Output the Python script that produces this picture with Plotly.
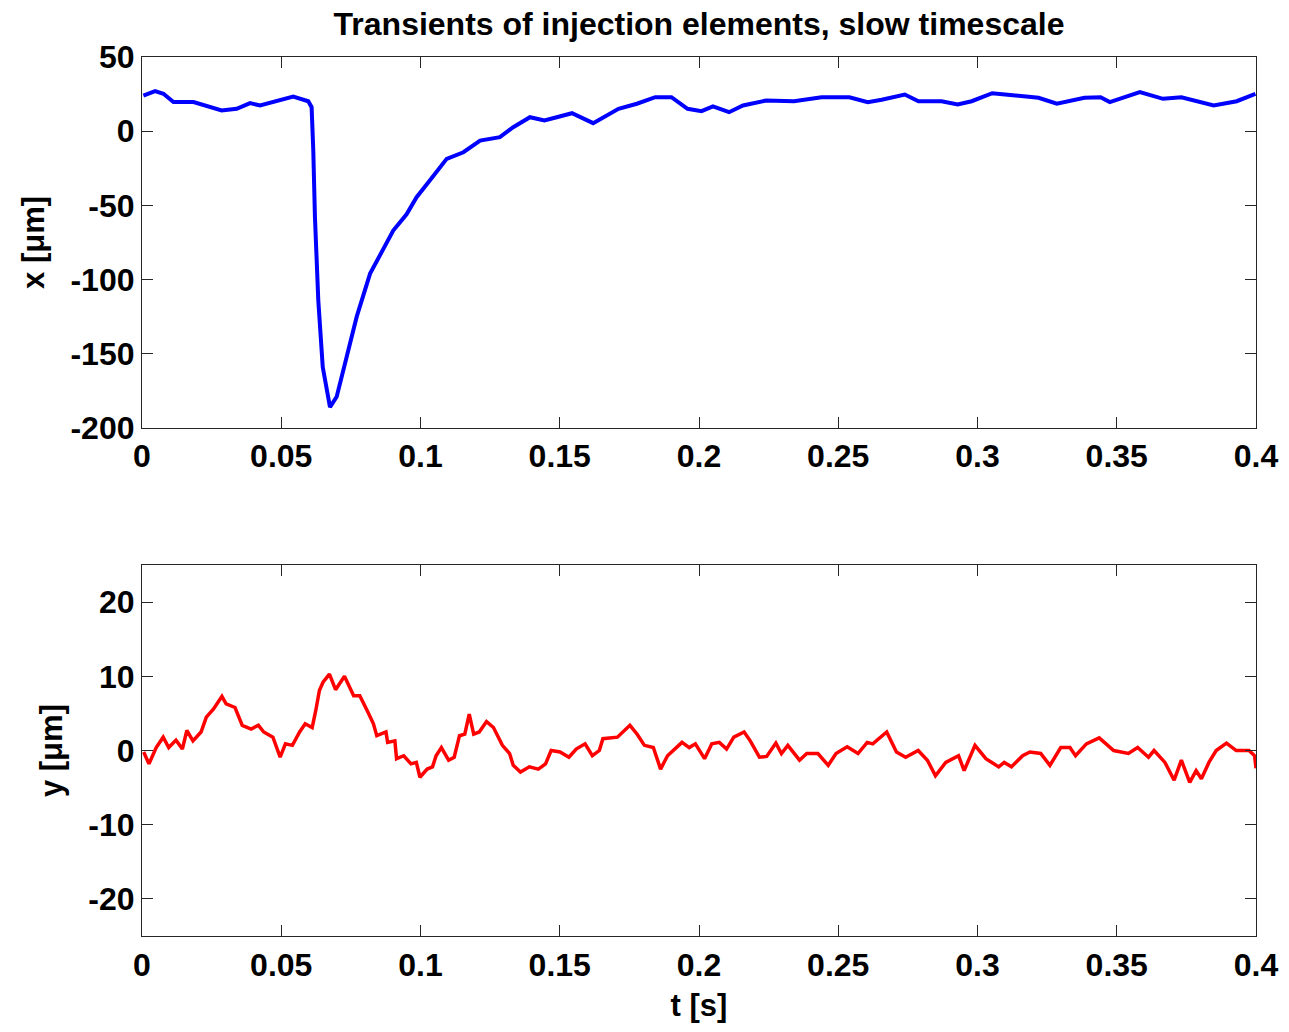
import plotly.graph_objects as go
from plotly.subplots import make_subplots

# ---- data ----
t_x = [0.0005, 0.0047, 0.0077, 0.0113, 0.0185, 0.0232, 0.0286, 0.0340, 0.0388, 0.0424,
       0.0484, 0.0543, 0.0597, 0.0609, 0.0615, 0.0621, 0.0633, 0.0649, 0.0675, 0.0699,
       0.0735, 0.0771, 0.0819, 0.0867, 0.0902, 0.0950, 0.0986, 0.1034, 0.1094, 0.1154,
       0.1214, 0.1285, 0.1333, 0.1393, 0.1445, 0.1489, 0.1544, 0.1620, 0.1711, 0.1777,
       0.1843, 0.1901, 0.1959, 0.2009, 0.2050, 0.2108, 0.2158, 0.2241, 0.2341, 0.2440,
       0.2540, 0.2606, 0.2656, 0.2739, 0.2788, 0.2871, 0.2929, 0.2979, 0.3053, 0.3136,
       0.3219, 0.3285, 0.3384, 0.3442, 0.3475, 0.3583, 0.3666, 0.3732, 0.3848, 0.3931,
       0.3998]
x_um = [24.0, 27.0, 25.2, 19.6, 19.6, 17.3, 14.0, 15.1, 18.9, 17.3,
        20.2, 23.4, 20.2, 16.2, -13.0, -58.0, -114.0, -159.0, -186.0, -179.0,
        -152.0, -125.0, -96.0, -80.0, -67.0, -56.0, -44.5, -33.0, -18.6, -14.2,
        -6.3, -4.0, 2.7, 9.4, 7.2, 9.4, 12.1, 5.4, 15.1, 18.5,
        22.9, 22.9, 15.1, 13.5, 16.7, 12.8, 17.3, 20.7, 20.2, 22.9,
        22.9, 19.6, 21.2, 24.7, 20.2, 20.2, 18.0, 20.2, 25.6, 24.1,
        22.5, 18.5, 22.5, 22.9, 19.6, 26.3, 21.8, 22.9, 17.3, 20.2,
        25.2]

t_y = [0.0006, 0.0025, 0.0051, 0.0076, 0.0096, 0.0122, 0.0145, 0.0161, 0.0183, 0.0212,
       0.0231, 0.0257, 0.0287, 0.0302, 0.0334, 0.0360, 0.0392, 0.0418, 0.0437, 0.0470,
       0.0496, 0.0515, 0.0540, 0.0566, 0.0586, 0.0611, 0.0624, 0.0637, 0.0650, 0.0673,
       0.0695, 0.0727, 0.0760, 0.0782, 0.0811, 0.0831, 0.0843, 0.0876, 0.0882, 0.0908,
       0.0914, 0.0940, 0.0966, 0.0985, 0.0998, 0.1024, 0.1043, 0.1056, 0.1075, 0.1101,
       0.1121, 0.1140, 0.1159, 0.1175, 0.1191, 0.1211, 0.1237, 0.1262, 0.1294, 0.1320,
       0.1333, 0.1359, 0.1391, 0.1423, 0.1449, 0.1469, 0.1501, 0.1533, 0.1559, 0.1591,
       0.1617, 0.1642, 0.1655, 0.1707, 0.1752, 0.1778, 0.1804, 0.1836, 0.1862, 0.1887,
       0.1939, 0.1965, 0.1987, 0.2020, 0.2046, 0.2073, 0.2099, 0.2125, 0.2162, 0.2184,
       0.2217, 0.2243, 0.2276, 0.2296, 0.2319, 0.2361, 0.2387, 0.2427, 0.2464, 0.2492,
       0.2532, 0.2571, 0.2604, 0.2624, 0.2674, 0.2709, 0.2742, 0.2787, 0.2820, 0.2849,
       0.2886, 0.2932, 0.2952, 0.2991, 0.3030, 0.3076, 0.3096, 0.3122, 0.3162, 0.3188,
       0.3227, 0.3260, 0.3299, 0.3332, 0.3352, 0.3391, 0.3437, 0.3489, 0.3542, 0.3575,
       0.3614, 0.3634, 0.3673, 0.3706, 0.3732, 0.3762, 0.3785, 0.3804, 0.3831, 0.3857,
       0.3894, 0.3929, 0.3975, 0.3995, 0.4000]
y_um = [-0.2, -1.8, 0.4, 1.8, 0.4, 1.4, 0.2, 2.7, 1.3, 2.5,
        4.5, 5.6, 7.3, 6.3, 5.8, 3.4, 2.9, 3.4, 2.5, 1.8,
        -0.9, 0.9, 0.7, 2.5, 3.6, 3.1, 5.4, 8.1, 9.2, 10.3,
        8.2, 10.0, 7.4, 7.4, 5.2, 3.6, 2.0, 2.5, 1.1, 1.3,
        -1.1, -0.7, -1.8, -1.6, -3.6, -2.5, -2.2, -0.7, 0.4, -1.3,
        -0.9, 2.0, 2.2, 4.9, 2.2, 2.5, 3.9, 3.1, 0.7, -0.4,
        -2.0, -2.9, -2.2, -2.5, -1.8, 0.0, -0.2, -0.9, 0.2, 0.9,
        -0.7, 0.0, 1.6, 1.8, 3.4, 2.2, 0.7, 0.4, -2.5, -0.7,
        1.1, 0.4, 0.9, -1.1, 0.9, 1.1, 0.2, 1.8, 2.5, 1.3,
        -0.9, -0.8, 1.0, -0.4, 0.7, -1.3, -0.4, -0.4, -2.0, -0.4,
        0.5, -0.4, 1.1, 0.9, 2.5, -0.2, -0.9, 0.0, -1.3, -3.4,
        -1.6, -0.7, -2.7, 0.7, -1.1, -2.2, -1.6, -2.2, -0.7, -0.2,
        -0.4, -2.0, 0.4, 0.4, -0.7, 0.9, 1.7, 0.0, -0.4, 0.4,
        -0.9, 0.0, -1.6, -4.0, -1.3, -4.3, -2.7, -3.8, -1.6, 0.0,
        1.0, 0.0, 0.0, -0.7, -2.4]

t_ticks = [0, 0.05, 0.1, 0.15, 0.2, 0.25, 0.3, 0.35, 0.4]
t_tick_labels = ["0", "0.05", "0.1", "0.15", "0.2", "0.25", "0.3", "0.35", "0.4"]
x_ticks = [-200, -150, -100, -50, 0, 50]
x_tick_labels = ["-200", "-150", "-100", "-50", "0", "50"]
y_ticks = [-20, -10, 0, 10, 20]
y_tick_labels = ["-20", "-10", "0", "10", "20"]

title_text = "Transients of injection elements, slow timescale"

FONT = "Liberation Sans"
TICK_SIZE = 32
LABEL_SIZE = 31
TITLE_SIZE = 32

fig = make_subplots(rows=2, cols=1, vertical_spacing=0.156)

fig.add_trace(go.Scatter(x=t_x, y=x_um, mode="lines",
                         line=dict(color="#0000ff", width=4), showlegend=False),
              row=1, col=1)
fig.add_trace(go.Scatter(x=t_y, y=y_um, mode="lines",
                         line=dict(color="#ff0000", width=3.5), showlegend=False),
              row=2, col=1)

axis_common = dict(
    showgrid=False, zeroline=False,
    showline=True, linecolor="#262626", linewidth=1.2, mirror="ticks",
    ticks="inside", ticklen=11, tickwidth=1.2, tickcolor="#262626",
    tickfont=dict(family=FONT, size=TICK_SIZE, color="black", weight="bold"),
)

for r in (1, 2):
    fig.update_xaxes(range=[0, 0.4], tickvals=t_ticks, ticktext=t_tick_labels,
                     **axis_common, row=r, col=1)

fig.update_xaxes(title=dict(text="t [s]", standoff=12,
                            font=dict(family=FONT, size=LABEL_SIZE, color="black", weight="bold")),
                 row=2, col=1)

fig.update_yaxes(range=[-200, 50], tickvals=x_ticks, ticktext=x_tick_labels, **axis_common,
                 title=dict(text="x [μm]", standoff=16,
                            font=dict(family=FONT, size=LABEL_SIZE, color="black", weight="bold")),
                 row=1, col=1)
fig.update_yaxes(range=[-25, 25], tickvals=y_ticks, ticktext=y_tick_labels, **axis_common,
                 title=dict(text="y [μm]", standoff=16,
                            font=dict(family=FONT, size=LABEL_SIZE, color="black", weight="bold")),
                 row=2, col=1)

fig.update_layout(
    width=1289, height=1032,
    margin=dict(l=142, r=33, t=57, b=96, autoexpand=False),
    paper_bgcolor="white", plot_bgcolor="white",
    title=dict(text=title_text, x=0.5, xanchor="center", xref="paper",
               y=1 - 24 / 1032, yref="container", yanchor="middle",
               font=dict(family=FONT, size=TITLE_SIZE, color="black", weight="bold")),
)

fig.write_html("out.html", config={"displayModeBar": False},
               post_script="document.body.style.margin='0';document.body.style.overflow='hidden';")
